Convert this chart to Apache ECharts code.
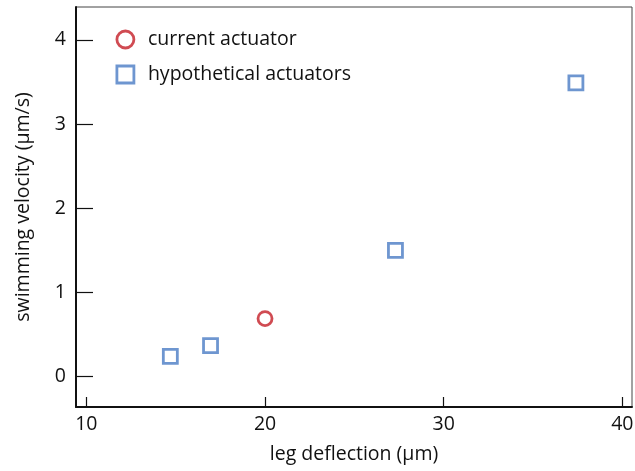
<!DOCTYPE html>
<html>
<head>
<meta charset="utf-8">
<script src="https://cdn.jsdelivr.net/npm/echarts@6/dist/echarts.min.js"></script>
<style>
  html, body { margin: 0; padding: 0; background: #fff; }
  #chart { width: 635px; height: 471px; }
</style>
</head>
<body>
<div id="chart"></div>
<script>
// Leg deflection (µm) vs. swimming velocity (µm/s)
const currentDeflection = [20.0];
const currentVelocity = [0.69];
const hypotheticalDeflection = [14.7, 16.95, 27.3, 37.4];
const hypotheticalVelocity = [0.24, 0.37, 1.5, 3.49];
const xTicks = [10, 20, 30, 40];
const yTicks = [0, 1, 2, 3, 4];

const FONT = '"Open Sans", "Noto Sans", sans-serif';
const FS = 19.5;
const RED = '#c41e27';
const BLUE = '#4a7cc4';

const pairs = (xs, ys) => xs.map((x, i) => [x, ys[i]]);
const hollow = (c) => ({ color: '#fff', borderColor: c, borderWidth: 2.8 });

const chart = echarts.init(document.getElementById('chart'), null, { renderer: 'canvas' });
chart.setOption({
  animation: false,
  backgroundColor: '#fff',
  textStyle: { fontFamily: FONT },
  grid: {
    left: 76, right: 3, top: 7, bottom: 64,
    outerBoundsMode: 'none',
    show: true, borderColor: '#444', borderWidth: 1
  },
  legend: {
    orient: 'vertical',
    left: 115.5, top: 29.5, padding: 0,
    itemWidth: 17, itemHeight: 17, itemGap: 15,
    textStyle: { fontFamily: FONT, fontSize: FS, color: '#111', padding: [0, 0, 0, 9] },
    data: [
      { name: 'current actuator', icon: 'circle', itemStyle: hollow(RED) },
      { name: 'hypothetical actuators', icon: 'rect', itemStyle: hollow(BLUE) }
    ]
  },
  xAxis: {
    type: 'value', min: 9.42, max: 40.54,
    name: 'leg deflection (μm)', nameLocation: 'middle', nameGap: 37,
    nameTextStyle: { fontFamily: FONT, fontSize: FS, color: '#111' },
    axisLine: { onZero: false, lineStyle: { color: '#111', width: 2 } },
    axisTick: { inside: true, length: 10, customValues: xTicks, lineStyle: { color: '#111', width: 1.2 } },
    axisLabel: { customValues: xTicks, margin: 7, fontFamily: FONT, fontSize: FS, color: '#111' },
    splitLine: { show: false }
  },
  yAxis: {
    type: 'value', min: -0.36, max: 4.39,
    name: 'swimming velocity (μm/s)', nameLocation: 'middle', nameGap: 43,
    nameTextStyle: { fontFamily: FONT, fontSize: FS, color: '#111' },
    axisLine: { onZero: false, lineStyle: { color: '#111', width: 2 } },
    axisTick: { inside: true, length: 17, customValues: yTicks, lineStyle: { color: '#111', width: 1.2 } },
    axisLabel: { customValues: yTicks, margin: 10, fontFamily: FONT, fontSize: FS, color: '#111' },
    splitLine: { show: false }
  },
  series: [
    {
      name: 'current actuator', type: 'scatter',
      symbol: 'circle', symbolSize: 14,
      itemStyle: hollow(RED),
      data: pairs(currentDeflection, currentVelocity)
    },
    {
      name: 'hypothetical actuators', type: 'scatter',
      symbol: 'rect', symbolSize: 14,
      itemStyle: hollow(BLUE),
      data: pairs(hypotheticalDeflection, hypotheticalVelocity)
    }
  ]
});
</script>
</body>
</html>
